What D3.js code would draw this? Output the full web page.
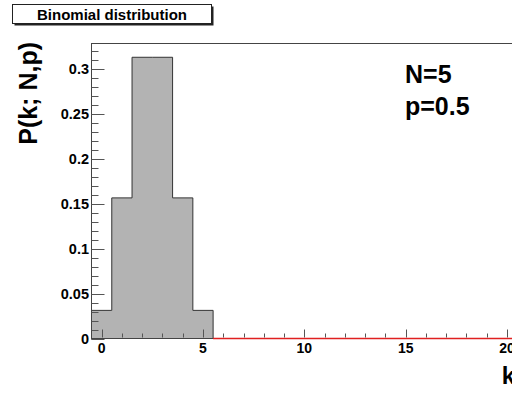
<!DOCTYPE html>
<html>
<head>
<meta charset="utf-8">
<script src="https://cdn.jsdelivr.net/npm/d3@7"></script>
<style>
  body { margin: 0; background: #fff; }
  svg { display: block; font-family: "Liberation Sans", Arial, Helvetica, sans-serif; }
</style>
</head>
<body>
<div id="chart"></div>
<script>
// histogram bins (bin centres) and their contents
const kValues = [0, 1, 2, 3, 4, 5, 6, 7, 8, 9, 10, 11, 12, 13, 14, 15, 16, 17, 18, 19, 20];
const probValues = [0.03125, 0.15625, 0.3125, 0.3125, 0.15625, 0.03125,
    0, 0, 0, 0, 0, 0, 0, 0, 0, 0, 0, 0, 0, 0, 0];
const xTickLabels = [0, 5, 10, 15, 20];
const yTickLabels = [0, 0.05, 0.1, 0.15, 0.2, 0.25, 0.3];
const titleText = "Binomial distribution";
const infoLines = ["N=5", "p=0.5"];

const W = 512, H = 394;
const frame = { left: 91.5, top: 43.5, bottom: 338.5 };

const svg = d3.select("#chart").append("svg")
    .attr("width", W)
    .attr("height", H);

// Scales
const xScale = d3.scaleLinear()
    .domain([-0.5, 20.5])
    .range([frame.left, frame.left + 21 * 20.27]);
const yScale = d3.scaleLinear()
    .domain([0, 0.3278])
    .range([frame.bottom, frame.top]);

// filled bars (non-zero bins)
const bins = kValues.map((k, i) => ({ k, v: probValues[i] }));
const filled = bins.filter(d => d.v > 0);

svg.append("path")
    .attr("d", () => {
        let p = `M${xScale(filled[0].k - 0.5)},${yScale(0)}`;
        filled.forEach(d => {
            p += `L${xScale(d.k - 0.5)},${yScale(d.v)}L${xScale(d.k + 0.5)},${yScale(d.v)}`;
        });
        p += `L${xScale(filled[filled.length - 1].k + 0.5)},${yScale(0)}Z`;
        return p;
    })
    .attr("fill", "#b3b3b3")
    .attr("stroke", "#333")
    .attr("stroke-width", 1);

// Frame
svg.append("rect")
    .attr("x", frame.left)
    .attr("y", frame.top)
    .attr("width", xScale(20.5) - frame.left)
    .attr("height", frame.bottom - frame.top)
    .attr("fill", "none")
    .attr("stroke", "#444")
    .attr("stroke-width", 1);

// empty bins drawn as red line on the axis
const empty = bins.filter(d => d.v === 0);
svg.append("line")
    .attr("x1", xScale(empty[0].k - 0.5))
    .attr("x2", xScale(empty[empty.length - 1].k + 0.5))
    .attr("y1", yScale(0))
    .attr("y2", yScale(0))
    .attr("stroke", "#e02020")
    .attr("stroke-width", 1.6);

// Y axis ticks (inside the frame)
const yMinor = d3.range(0, 0.325, 0.01);
svg.append("g").selectAll("line")
    .data(yMinor)
    .enter().append("line")
    .attr("x1", frame.left)
    .attr("x2", frame.left + 7)
    .attr("y1", d => Math.round(yScale(d)) + 0.5)
    .attr("y2", d => Math.round(yScale(d)) + 0.5)
    .attr("stroke", "#555");
svg.append("g").selectAll("line")
    .data(yTickLabels)
    .enter().append("line")
    .attr("x1", frame.left)
    .attr("x2", frame.left + 13)
    .attr("y1", d => Math.round(yScale(d)) + 0.5)
    .attr("y2", d => Math.round(yScale(d)) + 0.5)
    .attr("stroke", "#555");
svg.append("g").selectAll("text")
    .data(yTickLabels)
    .enter().append("text")
    .attr("x", 89)
    .attr("y", d => yScale(d) + 5)
    .attr("text-anchor", "end")
    .style("font-size", "14.5px")
    .style("font-weight", "bold")
    .text(d => d3.format("~g")(d));

// X axis ticks (upwards from the bottom)
const xMinor = d3.range(0, 21, 1);
svg.append("g").selectAll("line")
    .data(xMinor)
    .enter().append("line")
    .attr("x1", d => Math.round(xScale(d)) + 0.5)
    .attr("x2", d => Math.round(xScale(d)) + 0.5)
    .attr("y1", frame.bottom - 1)
    .attr("y2", d => frame.bottom - (d % 5 === 0 ? 9 : 5))
    .attr("stroke", "#555");
svg.append("g").selectAll("text")
    .data(xTickLabels)
    .enter().append("text")
    .attr("x", d => xScale(d))
    .attr("y", 353)
    .attr("text-anchor", "middle")
    .style("font-size", "14px")
    .style("font-weight", "bold")
    .text(d => d);

// Axis titles
svg.append("text")
    .attr("transform", "translate(37,42) rotate(-90)")
    .attr("text-anchor", "end")
    .style("font-size", "25px")
    .style("font-weight", "bold")
    .text("P(k; N,p)");
svg.append("text")
    .attr("x", 515)
    .attr("y", 384)
    .attr("text-anchor", "end")
    .style("font-size", "24px")
    .style("font-weight", "bold")
    .text("k");

// Parameter text
svg.append("g").selectAll("text")
    .data(infoLines)
    .enter().append("text")
    .attr("x", 405)
    .attr("y", (d, i) => 83 + i * 32)
    .style("font-size", "25px")
    .style("font-weight", "bold")
    .text(d => d);

// Title box with shadow
svg.append("rect")
    .attr("x", 14.5).attr("y", 6.5)
    .attr("width", 199).attr("height", 19)
    .attr("fill", "#222");
svg.append("rect")
    .attr("x", 12.5).attr("y", 4.5)
    .attr("width", 199).attr("height", 19)
    .attr("fill", "#fff")
    .attr("stroke", "#222");
svg.append("text")
    .attr("x", 112)
    .attr("y", 19.5)
    .attr("text-anchor", "middle")
    .style("font-size", "15px")
    .style("font-weight", "bold")
    .text(titleText);
</script>
</body>
</html>
